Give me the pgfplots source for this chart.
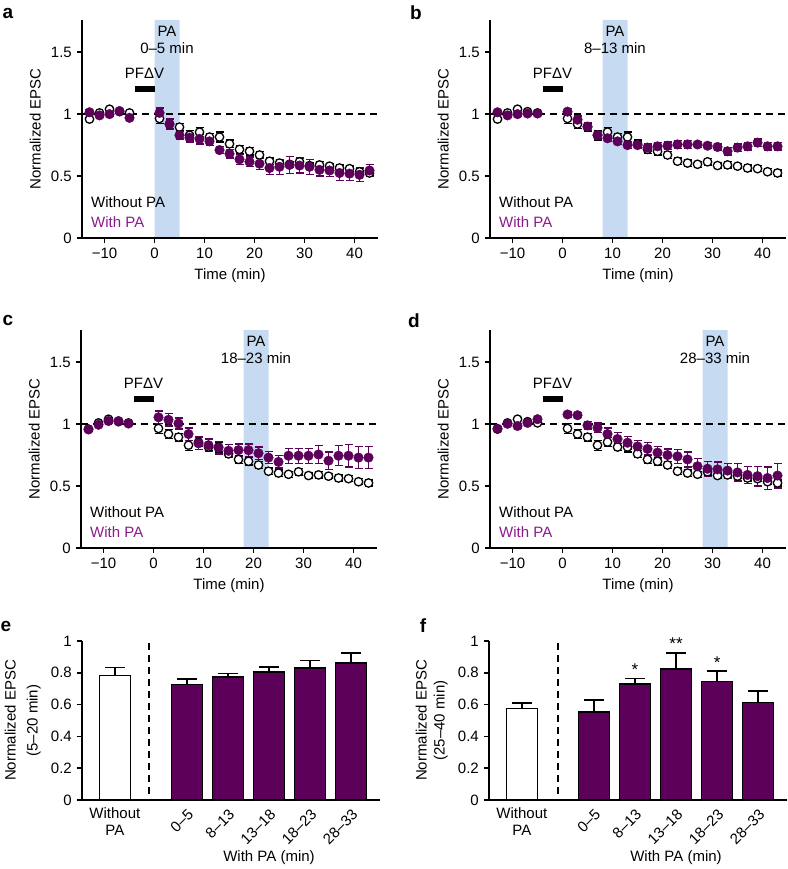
\documentclass[border=0pt]{standalone}
\usepackage{pgfplots}
\pgfplotsset{compat=1.18}
\usepackage{pgfplotstable}
\usepackage{fontspec}
\setmainfont{Liberation Sans}
\definecolor{pmark}{HTML}{5C0059}
\definecolor{ptext}{HTML}{8B1A8C}
\definecolor{band}{HTML}{C6DAF1}

% control (without PA), common to panels a-d
\pgfplotstableread{
t v e
-13 0.96 0.012
-11 1.01 0.012
-9 1.04 0.012
-7 1.02 0.012
-5 1.01 0.012
1 0.965 0.04
3 0.92 0.035
5 0.895 0.03
7 0.83 0.04
9 0.855 0.035
11 0.815 0.03
13 0.815 0.04
15 0.76 0.03
17 0.715 0.03
19 0.70 0.03
21 0.67 0.03
23 0.62 0.025
25 0.605 0.025
27 0.595 0.025
29 0.615 0.025
31 0.585 0.02
33 0.59 0.025
35 0.58 0.02
37 0.565 0.025
39 0.56 0.025
41 0.535 0.025
43 0.525 0.025
}\ctrl

\pgfplotstableread{
t v e
-13 1.015 0.02
-11 0.99 0.015
-9 1.0 0.015
-7 1.025 0.015
-5 0.97 0.015
1 1.01 0.04
3 0.92 0.04
5 0.83 0.03
7 0.81 0.035
9 0.80 0.04
11 0.78 0.035
13 0.71 0.03
15 0.68 0.035
17 0.635 0.04
19 0.615 0.04
21 0.60 0.045
23 0.565 0.05
25 0.575 0.06
27 0.59 0.07
29 0.585 0.06
31 0.575 0.06
33 0.55 0.05
35 0.545 0.05
37 0.525 0.06
39 0.52 0.055
41 0.51 0.055
43 0.545 0.05
}\pa

\pgfplotstableread{
t v e
-13 1.015 0.015
-11 0.99 0.015
-9 1.0 0.015
-7 1.005 0.015
-5 1.005 0.015
1 1.02 0.025
3 0.955 0.03
5 0.90 0.03
7 0.83 0.03
9 0.805 0.025
11 0.78 0.025
13 0.75 0.025
15 0.75 0.025
17 0.73 0.03
19 0.74 0.03
21 0.745 0.03
23 0.755 0.03
25 0.755 0.03
27 0.755 0.025
29 0.745 0.025
31 0.735 0.025
33 0.70 0.03
35 0.73 0.03
37 0.74 0.03
39 0.77 0.03
41 0.74 0.03
43 0.74 0.03
}\pb

\pgfplotstableread{
t v e
-13 0.957 0.015
-11 0.995 0.015
-9 1.025 0.015
-7 1.025 0.015
-5 1.005 0.015
1 1.055 0.05
3 1.035 0.05
5 1.005 0.045
7 0.92 0.05
9 0.845 0.05
11 0.83 0.05
13 0.81 0.05
15 0.785 0.05
17 0.79 0.05
19 0.79 0.05
21 0.765 0.05
23 0.73 0.05
25 0.695 0.05
27 0.745 0.06
29 0.745 0.06
31 0.745 0.06
33 0.755 0.07
35 0.705 0.07
37 0.745 0.08
39 0.745 0.09
41 0.73 0.09
43 0.73 0.09
}\pc

\pgfplotstableread{
t v e
-13 0.963 0.015
-11 1.003 0.015
-9 0.985 0.015
-7 1.01 0.015
-5 1.04 0.015
1 1.078 0.02
3 1.072 0.02
5 0.99 0.03
7 0.97 0.04
9 0.92 0.05
11 0.88 0.05
13 0.85 0.05
15 0.82 0.05
17 0.80 0.05
19 0.77 0.05
21 0.75 0.05
23 0.74 0.055
25 0.715 0.06
27 0.66 0.06
29 0.64 0.06
31 0.635 0.06
33 0.625 0.06
35 0.61 0.07
37 0.59 0.07
39 0.58 0.08
41 0.565 0.09
43 0.585 0.1
}\pd

% bar data
\pgfplotstableread{
x v e
0 0.784 0.05
}\ectrl
\pgfplotstableread{
x v e
1.75 0.725 0.036
2.75 0.775 0.021
3.75 0.805 0.033
4.75 0.830 0.048
5.75 0.863 0.063
}\epa
\pgfplotstableread{
x v e
0 0.575 0.036
}\fctrl
\pgfplotstableread{
x v e
1.75 0.554 0.076
2.75 0.731 0.034
3.75 0.825 0.099
4.75 0.744 0.066
5.75 0.613 0.072
}\fpa

\newcommand\fnt{\fontsize{15}{18}\selectfont}

\pgfplotsset{
  common/.style={
    scale only axis,
    axis lines=left,
    axis line style={-, line width=1.5pt},
    tick align=outside,
    major tick length=5pt,
    every tick/.style={black, line width=1.5pt},
    xticklabel style={font=\fnt},
    yticklabel style={font=\fnt},
    xlabel style={font=\fnt},
    ylabel style={font=\fnt},
    axis on top,
    clip=false,
  },
  timeax/.style={
    common,
    width=296pt, height=218pt,
    xmin=-14.5, xmax=44.7, ymin=0, ymax=1.76,
    xtick={-10,0,10,20,30,40},
    xticklabels={−10,0,10,20,30,40},
    ytick={0,0.5,1,1.5},
    yticklabels={0,0.5,1,1.5},
    xlabel={Time (min)},
    ylabel={Normalized EPSC},
  },
  barax/.style={
    common,
    width=298pt, height=159pt,
    xmin=-0.8, xmax=6.45, ymin=0, ymax=1,
    ytick={0,0.2,0.4,0.6,0.8,1},
    yticklabels={0,0.2,0.4,0.6,0.8,1},
    xtick={1.75,2.75,3.75,4.75,5.75},
    xticklabels={0–5,8–13,13–18,18–23,28–33},
    xtick style={draw=none},
    xticklabel style={rotate=45, anchor=north east, inner sep=2pt},
  },
  ctrlplot/.style={
    only marks, mark=*, mark size=4.2pt,
    mark options={fill=white, draw=black, line width=1.3pt},
    error bars/.cd, y dir=both, y explicit,
    error bar style={line width=1.3pt, black},
    error mark options={rotate=90, mark size=4pt, line width=1.3pt, black},
  },
  paplot/.style={
    only marks, mark=*, mark size=4.8pt,
    mark options={fill=pmark, draw=pmark},
    error bars/.cd, y dir=both, y explicit,
    error bar style={line width=1.3pt, pmark},
    error mark options={rotate=90, mark size=4pt, line width=1.3pt, pmark},
  },
  barplot/.style={
    ybar, bar width=31pt, bar shift=0pt, draw=black, line width=1.5pt,
    error bars/.cd, y dir=plus, y explicit,
    error bar style={line width=1.5pt, black},
    error mark options={rotate=90, mark size=10pt, line width=1.5pt, black},
  },
}

% #1 x, #2 y, #3 table, #4 band start, #5 band end, #6 band centre, #7 band label
\newcommand\timepanel[7]{%
\begin{axis}[timeax, at={(#1,#2)}, anchor=south west]
  \addplot[fill=band, draw=none] coordinates {(#4,0) (#4,1.76) (#5,1.76) (#5,0)} \closedcycle;
  \addplot[black, dash pattern=on 7pt off 5pt, line width=1.5pt] coordinates {(-14.5,1) (44.7,1)};
  \addplot[black, line width=6pt] coordinates {(-4,1.2) (0,1.2)};
  \addplot[ctrlplot] table[x=t, y=v, y error=e] {\ctrl};
  \addplot[paplot] table[x=t, y=v, y error=e] {#3};
  \node[font=\fnt] at (axis cs:-2,1.33) {PFΔV};
  \node[font=\fnt] at (axis cs:#6,1.665) {PA};
  \node[font=\fnt] at (axis cs:#6,1.53) {#7};
  \node[font=\fnt, anchor=west, inner sep=0pt] at (axis cs:-12.7,0.29) {Without PA};
  \node[font=\fnt, anchor=west, inner sep=0pt, text=ptext] at (axis cs:-12.7,0.13) {With PA};
\end{axis}}

\begin{document}
\fnt
\begin{tikzpicture}
\useasboundingbox (0,0) rectangle (787pt,-869pt);

\timepanel{82pt}{-238pt}{\pa}{0}{5}{2.5}{0–5 min}
\timepanel{490pt}{-238pt}{\pb}{8}{13}{10.5}{8–13 min}
\timepanel{81pt}{-548pt}{\pc}{18}{23}{20.5}{18–23 min}
\timepanel{490pt}{-548pt}{\pd}{28}{33}{30.5}{28–33 min}

\begin{axis}[barax, at={(82pt,-800pt)}, anchor=south west,
  ylabel={Normalized EPSC\\[4pt](5–20 min)}, ylabel style={align=center}]
  \addplot[black, dash pattern=on 7pt off 5pt, line width=1.5pt] coordinates {(0.83,0.04) (0.83,1.02)};
  \addplot[fill=white, barplot] table[x=x, y=v, y error=e] {\ectrl};
  \addplot[fill=pmark, barplot] table[x=x, y=v, y error=e] {\epa};
  \node[font=\fontsize{15}{17}\selectfont, align=center, anchor=north, inner sep=0pt] at (axis cs:0,-0.045) {Without\\PA};
  \node[font=\fnt] at (axis cs:3.75,-0.365) {With PA (min)};
\end{axis}

\begin{axis}[barax, at={(489pt,-800pt)}, anchor=south west,
  ylabel={Normalized EPSC\\(25–40 min)}, ylabel style={align=center}]
  \addplot[black, dash pattern=on 7pt off 5pt, line width=1.5pt] coordinates {(0.88,0.04) (0.88,1.0)};
  \addplot[fill=white, barplot] table[x=x, y=v, y error=e] {\fctrl};
  \addplot[fill=pmark, barplot] table[x=x, y=v, y error=e] {\fpa};
  \node[font=\fontsize{17}{18}\selectfont] at (axis cs:2.75,0.82) {*};
  \node[font=\fontsize{17}{18}\selectfont] at (axis cs:3.75,0.985) {**};
  \node[font=\fontsize{17}{18}\selectfont] at (axis cs:4.75,0.865) {*};
  \node[font=\fontsize{15}{17}\selectfont, align=center, anchor=north, inner sep=0pt] at (axis cs:0,-0.045) {Without\\PA};
  \node[font=\fnt] at (axis cs:3.75,-0.365) {With PA (min)};
\end{axis}

\node[font=\bfseries\fontsize{19}{20}\selectfont] at (8pt,-13pt) {a};
\node[font=\bfseries\fontsize{19}{20}\selectfont] at (416pt,-13pt) {b};
\node[font=\bfseries\fontsize{19}{20}\selectfont] at (8pt,-320pt) {c};
\node[font=\bfseries\fontsize{19}{20}\selectfont] at (414pt,-321pt) {d};
\node[font=\bfseries\fontsize{19}{20}\selectfont] at (6pt,-626pt) {e};
\node[font=\bfseries\fontsize{19}{20}\selectfont] at (423pt,-626pt) {f};
\end{tikzpicture}
\end{document}
